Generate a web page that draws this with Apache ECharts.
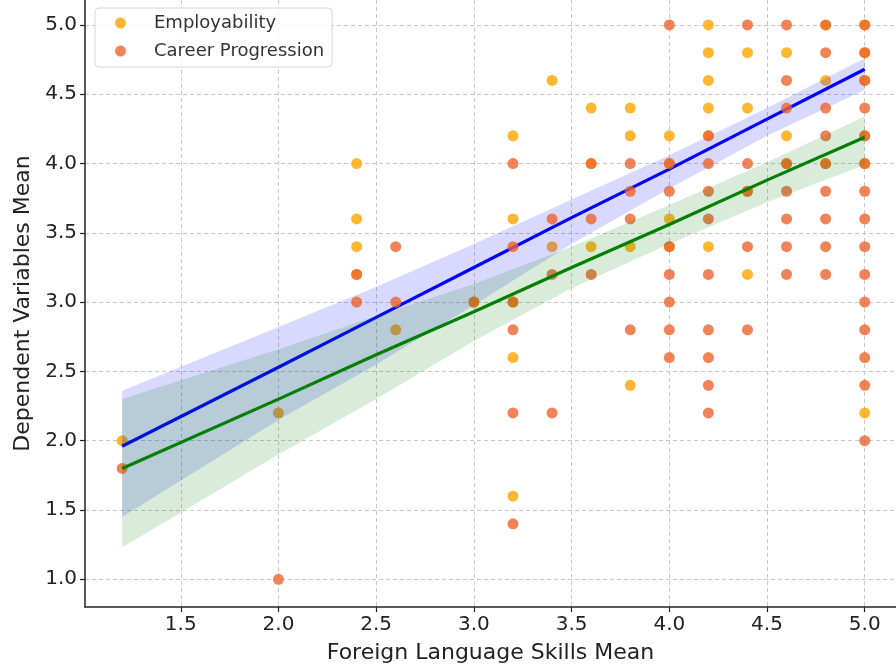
<!DOCTYPE html>
<html>
<head>
<meta charset="utf-8">
<script src="https://cdn.jsdelivr.net/npm/echarts@6/dist/echarts.min.js"></script>
</head>
<body style="margin: 0">
<div id="container" style="width: 896px; height: 665px"></div>
<script>
// x positions of the point columns (Foreign Language Skills Mean)
var xCols = [1.2, 2.0, 2.4, 2.6, 3.0, 3.2, 3.4, 3.6, 3.8, 4.0, 4.2, 4.4, 4.6, 4.8, 5.0];

// y values per column, same order as xCols
var employabilityY = [
    [2.0],
    [2.2],
    [4.0, 3.6, 3.4, 3.2],
    [2.8],
    [3.0],
    [4.2, 3.6, 3.0, 2.6, 1.6],
    [4.6, 3.4],
    [4.4, 4.0, 3.4],
    [4.4, 4.2, 3.4, 2.4],
    [4.2, 4.0, 3.6, 3.4],
    [5.0, 4.8, 4.6, 4.4, 4.2, 3.4],
    [4.8, 4.4, 3.8, 3.2],
    [4.8, 4.2, 4.0],
    [5.0, 4.6, 4.0],
    [5.0, 4.8, 4.6, 4.2, 4.0, 2.2]
];
var careerY = [
    [1.8],
    [1.0],
    [3.2, 3.0],
    [3.4, 3.0],
    [3.0],
    [4.0, 3.4, 3.0, 2.8, 2.2, 1.4],
    [3.6, 3.2, 2.2],
    [4.0, 3.6, 3.2],
    [4.0, 3.8, 3.6, 2.8],
    [5.0, 4.0, 3.8, 3.4, 3.2, 3.0, 2.8, 2.6],
    [4.2, 4.0, 3.8, 3.6, 3.2, 2.8, 2.6, 2.4, 2.2],
    [5.0, 4.0, 3.8, 3.4, 2.8],
    [5.0, 4.6, 4.4, 4.0, 3.8, 3.6, 3.4, 3.2],
    [5.0, 4.8, 4.4, 4.2, 4.0, 3.8, 3.6, 3.4, 3.2],
    [5.0, 4.8, 4.6, 4.4, 4.2, 4.0, 3.8, 3.6, 3.4, 3.2, 3.0, 2.8, 2.6, 2.4, 2.0]
];

// regression fits and confidence bands
var fitX = [1.2, 2.0, 2.5, 3.0, 3.5, 4.0, 4.5, 5.0];
var empFit = [1.96, 2.53, 2.89, 3.25, 3.61, 3.96, 4.32, 4.68];
var empHigh = [2.36, 2.82, 3.11, 3.42, 3.74, 4.06, 4.40, 4.76];
var empLow = [1.45, 2.15, 2.55, 2.98, 3.42, 3.82, 4.20, 4.53];
var careerFit = [1.80, 2.30, 2.62, 2.93, 3.25, 3.56, 3.88, 4.19];
var careerHigh = [2.30, 2.66, 2.90, 3.13, 3.40, 3.70, 4.01, 4.34];
var careerLow = [1.23, 1.90, 2.30, 2.72, 3.10, 3.42, 3.72, 3.99];

var xTicks = [1.5, 2.0, 2.5, 3.0, 3.5, 4.0, 4.5, 5.0];
var yTicks = [1.0, 1.5, 2.0, 2.5, 3.0, 3.5, 4.0, 4.5, 5.0];

function toPoints(cols) {
    var out = [];
    for (var i = 0; i < xCols.length; i++) {
        cols[i].forEach(function (y) { out.push([xCols[i], y]); });
    }
    return out;
}
function zip(xs, ys) {
    return xs.map(function (x, i) { return [x, ys[i]]; });
}
function band(low, high, fill, z) {
    return {
        type: 'custom',
        z: z,
        silent: true,
        data: [[fitX[0], low[0]]],
        renderItem: function (params, api) {
            var pts = [];
            for (var i = 0; i < fitX.length; i++) pts.push(api.coord([fitX[i], high[i]]));
            for (var j = fitX.length - 1; j >= 0; j--) pts.push(api.coord([fitX[j], low[j]]));
            return { type: 'polygon', shape: { points: pts }, style: { fill: fill } };
        }
    };
}
function fitLine(ys, color, z) {
    return {
        type: 'line',
        z: z,
        silent: true,
        showSymbol: false,
        lineStyle: { color: color, width: 3.2 },
        data: zip(fitX, ys)
    };
}

var font = 'DejaVu Sans';
var axisCommon = {
    axisLine: { lineStyle: { color: '#222', width: 1.5 } },
    axisTick: { length: 5, lineStyle: { color: '#222', width: 1.2 } },
    splitLine: { show: true, lineStyle: { color: '#c8c8c8', type: [4, 3], width: 1 } },
    nameLocation: 'middle',
    nameTextStyle: { fontFamily: font, fontSize: 22, color: '#222' }
};

var myChart = echarts.init(document.getElementById('container'));
var option = {
    animation: false,
    backgroundColor: '#fff',
    grid: { left: 85, right: 0, top: 0, bottom: 58, outerBoundsMode: 'none' },
    legend: {
        orient: 'vertical',
        left: 95,
        top: 8,
        z: 10,
        padding: [6, 8, 7, 20],
        itemWidth: 11,
        itemHeight: 11,
        itemGap: 10,
        icon: 'circle',
        backgroundColor: 'rgba(255,255,255,0.8)',
        borderColor: '#d6d6d6',
        borderWidth: 1,
        borderRadius: 4,
        textStyle: { fontFamily: font, fontSize: 18, color: '#333', padding: [0, 0, 0, 23] },
        data: ['Employability', 'Career Progression']
    },
    xAxis: Object.assign({}, axisCommon, {
        type: 'value',
        min: 1.01,
        max: 5.16,
        name: 'Foreign Language Skills Mean',
        nameGap: 35,
        axisTick: Object.assign({}, axisCommon.axisTick, { customValues: xTicks }),
        axisLabel: {
            customValues: xTicks, margin: 8,
            fontFamily: font, fontSize: 20, color: '#222',
            formatter: function (v) { return v.toFixed(1); }
        }
    }),
    yAxis: Object.assign({}, axisCommon, {
        type: 'value',
        min: 0.8,
        max: 5.18,
        name: 'Dependent Variables Mean',
        nameGap: 48,
        axisTick: Object.assign({}, axisCommon.axisTick, { customValues: yTicks }),
        axisLabel: {
            customValues: yTicks, margin: 8,
            fontFamily: font, fontSize: 20, color: '#222',
            formatter: function (v) { return v.toFixed(1); }
        }
    }),
    series: [
        {
            name: 'Employability',
            type: 'scatter',
            z: 2,
            symbolSize: 11,
            itemStyle: { color: '#ffa500', opacity: 0.8 },
            data: toPoints(employabilityY)
        },
        band(empLow, empHigh, 'rgba(0,0,255,0.15)', 3),
        fitLine(empFit, '#0000ff', 4),
        {
            name: 'Career Progression',
            type: 'scatter',
            z: 5,
            symbolSize: 11,
            itemStyle: { color: '#ec642d', opacity: 0.8 },
            data: toPoints(careerY)
        },
        band(careerLow, careerHigh, 'rgba(0,128,0,0.15)', 6),
        fitLine(careerFit, '#008000', 7)
    ]
};
myChart.setOption(option);
</script>
</body>
</html>
